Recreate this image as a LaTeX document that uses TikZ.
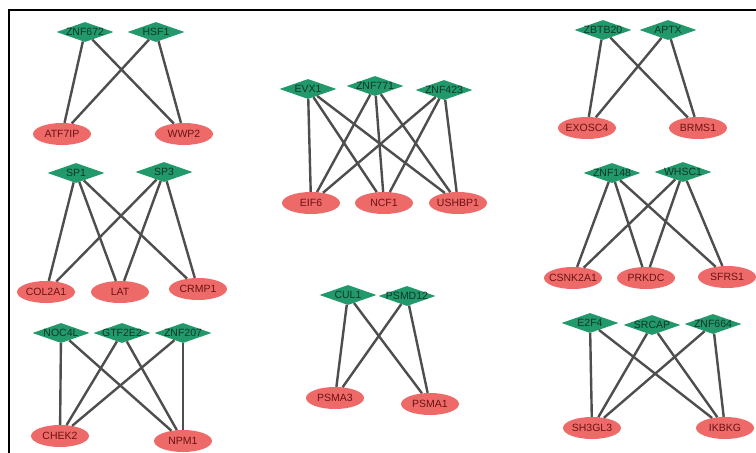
\documentclass[tikz,border=0pt]{standalone}
\usepackage{fontspec}
\setmainfont{Liberation Sans}
\usetikzlibrary{shapes.geometric}
\definecolor{tfgreen}{HTML}{21996B}
\definecolor{tftext}{HTML}{10362A}
\definecolor{genered}{HTML}{EE6A69}
\definecolor{genetext}{HTML}{6A1212}
\definecolor{edgegray}{HTML}{4E4E4E}
\newcommand{\lbl}[1]{\makebox[0pt][c]{#1}}
\begin{document}
\begin{tikzpicture}[x=1pt,y=-1pt,
  tf/.style={diamond, fill=tfgreen, minimum width=57pt, minimum height=20pt,
    inner sep=0pt, font=\fontsize{10.5}{10.5}\selectfont, text=tftext},
  gene/.style={ellipse, fill=genered, minimum width=58pt, minimum height=22pt,
    inner sep=0pt, font=\fontsize{10.5}{10.5}\selectfont, text=genetext},
  link/.style={draw=edgegray, line width=2.4pt},
  frame/.style={draw=black, line width=2.5pt}]
\useasboundingbox (0,0) rectangle (756,453);
\fill[white] (0,0) rectangle (756,453);
\draw[frame] (9,460) -- (9,10) -- (760,10);

% module 1
\node[tf] (znf672) at (85,32) {\lbl{ZNF672}};
\node[tf] (hsf1) at (156,32) {\lbl{HSF1}};
\node[gene] (atf7ip) at (62,134) {\lbl{ATF7IP}};
\node[gene] (wwp2) at (184,134) {\lbl{WWP2}};
\foreach \a/\b in {znf672/atf7ip, znf672/wwp2, hsf1/atf7ip, hsf1/wwp2}
  \draw[link] (\a) -- (\b);

% module 2
\node[tf] (evx1) at (308,89) {\lbl{EVX1}};
\node[tf] (znf771) at (375,86) {\lbl{ZNF771}};
\node[tf] (znf423) at (444,90) {\lbl{ZNF423}};
\node[gene] (eif6) at (311,203) {\lbl{EIF6}};
\node[gene] (ncf1) at (384,203) {\lbl{NCF1}};
\node[gene] (ushbp1) at (458,203) {\lbl{USHBP1}};
\foreach \a in {evx1, znf771, znf423}
  \foreach \b in {eif6, ncf1, ushbp1}
    \draw[link] (\a) -- (\b);

% module 3
\node[tf] (zbtb20) at (603,30) {\lbl{ZBTB20}};
\node[tf] (aptx) at (668,30) {\lbl{APTX}};
\node[gene] (exosc4) at (587,128) {\lbl{EXOSC4}};
\node[gene] (brms1) at (698,128) {\lbl{BRMS1}};
\foreach \a/\b in {zbtb20/exosc4, zbtb20/brms1, aptx/exosc4, aptx/brms1}
  \draw[link] (\a) -- (\b);

% module 4
\node[tf] (sp1) at (76,173) {\lbl{SP1}};
\node[tf] (sp3) at (164,172) {\lbl{SP3}};
\node[gene] (col2a1) at (46,292) {\lbl{COL2A1}};
\node[gene] (lat) at (120,292) {\lbl{LAT}};
\node[gene] (crmp1) at (198,289) {\lbl{CRMP1}};
\foreach \a in {sp1, sp3}
  \foreach \b in {col2a1, lat, crmp1}
    \draw[link] (\a) -- (\b);

% module 5
\node[tf] (znf148) at (612,173) {\lbl{ZNF148}};
\node[tf] (whsc1) at (683,172) {\lbl{WHSC1}};
\node[gene] (csnk2a1) at (573,278) {\lbl{CSNK2A1}};
\node[gene] (prkdc) at (646,278) {\lbl{PRKDC}};
\node[gene] (sfrs1) at (727,277) {\lbl{SFRS1}};
\foreach \a in {znf148, whsc1}
  \foreach \b in {csnk2a1, prkdc, sfrs1}
    \draw[link] (\a) -- (\b);

% module 6
\node[tf] (noc4l) at (61,333) {\lbl{NOC4L}};
\node[tf] (gtf2e2) at (122,333) {\lbl{GTF2E2}};
\node[tf] (znf207) at (183,333) {\lbl{ZNF207}};
\node[gene] (chek2) at (60,436) {\lbl{CHEK2}};
\node[gene] (npm1) at (183,441) {\lbl{NPM1}};
\foreach \a in {noc4l, gtf2e2, znf207}
  \foreach \b in {chek2, npm1}
    \draw[link] (\a) -- (\b);

% module 7
\node[tf] (cul1) at (348,295) {\lbl{CUL1}};
\node[tf] (psmd12) at (407,296) {\lbl{PSMD12}};
\node[gene] (psma3) at (335,398) {\lbl{PSMA3}};
\node[gene] (psma1) at (430,404) {\lbl{PSMA1}};
\foreach \a/\b in {cul1/psma3, cul1/psma1, psmd12/psma3, psmd12/psma1}
  \draw[link] (\a) -- (\b);

% module 8
\node[tf] (e2f4) at (590,323) {\lbl{E2F4}};
\node[tf] (srcap) at (652,325) {\lbl{SRCAP}};
\node[tf] (znf664) at (713,324) {\lbl{ZNF664}};
\node[gene] (sh3gl3) at (592,428) {\lbl{SH3GL3}};
\node[gene] (ikbkg) at (725,428) {\lbl{IKBKG}};
\foreach \a in {e2f4, srcap, znf664}
  \foreach \b in {sh3gl3, ikbkg}
    \draw[link] (\a) -- (\b);
\end{tikzpicture}
\end{document}
